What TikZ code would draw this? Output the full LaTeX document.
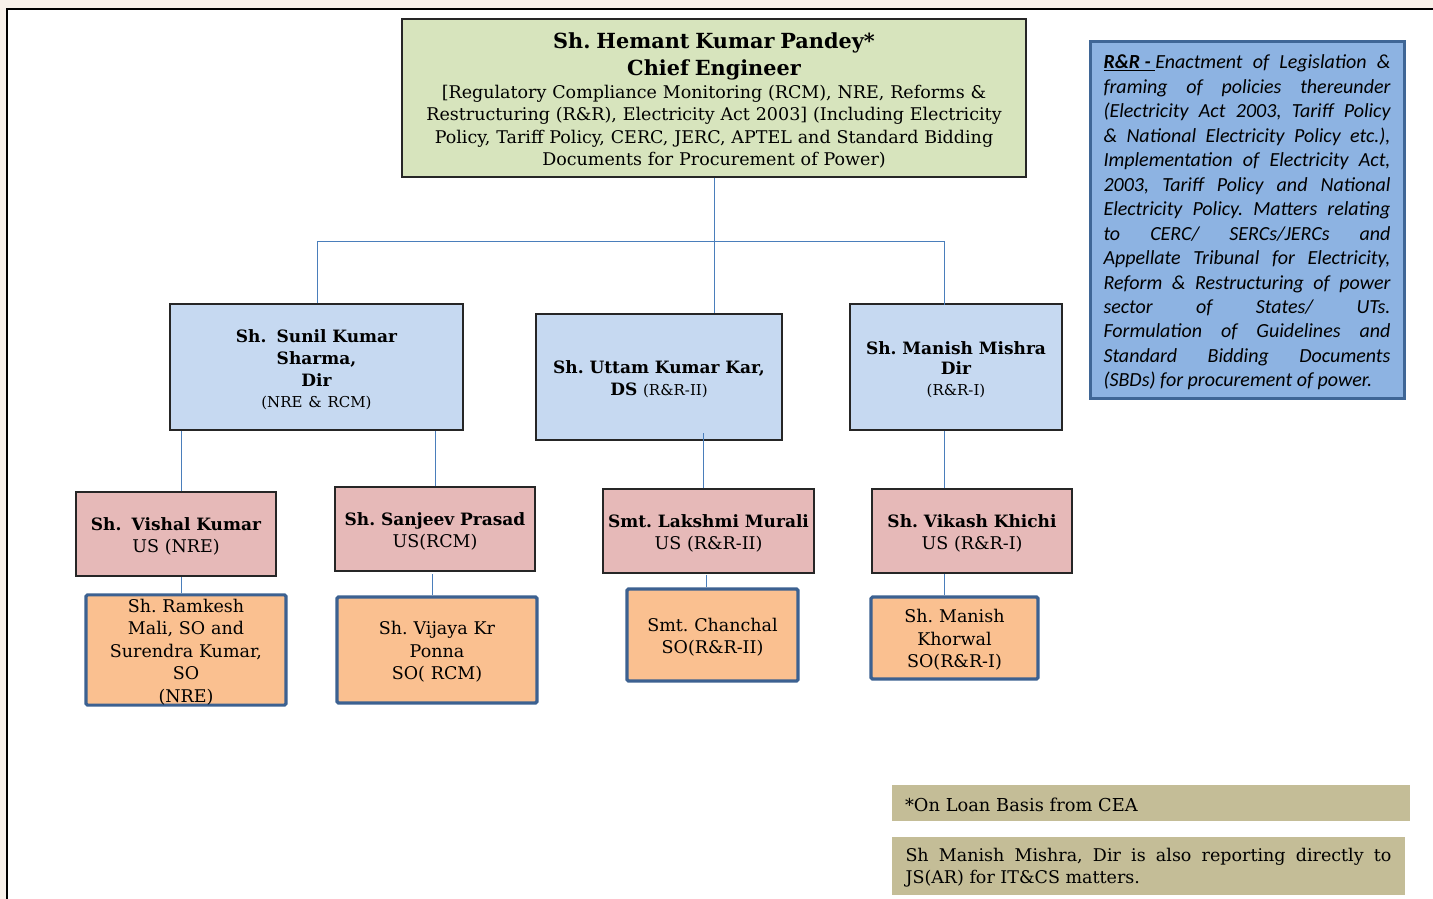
\documentclass[tikz,border=0pt]{standalone}
\usepackage{fontspec}
\setmainfont{DejaVu Serif}
\newfontfamily\calfont{Carlito}
\usetikzlibrary{calc}
\frenchspacing

\definecolor{pagebg}{HTML}{F8F1EA}
\definecolor{cegreen}{HTML}{D7E4BD}
\definecolor{dirblue}{HTML}{C6D9F1}
\definecolor{uspink}{HTML}{E6B9B8}
\definecolor{soorange}{HTML}{FAC090}
\definecolor{soedge}{HTML}{3C6191}
\definecolor{rrblue}{HTML}{8DB3E2}
\definecolor{rredge}{HTML}{3F6696}
\definecolor{notetan}{HTML}{C4BD97}
\definecolor{linkblue}{HTML}{4A7EBB}

% type sizes
\newcommand\cetitle{\fontsize{20.8}{27}\selectfont\bfseries}
\newcommand\namefont{\fontsize{17}{22}\selectfont\bfseries}
\newcommand\postfont{\fontsize{15}{21}\selectfont\mdseries}
\newcommand\bodyfont{\fontsize{17.5}{22.5}\selectfont\mdseries}

\tikzset{
  % a tall strut on the first line sets the text a little lower in its box
  firstline/.style={execute at begin node={\rule{0pt}{#1}}},
  orgbox/.style={draw=black!85, line width=1.4pt, inner sep=0pt, align=center, font=\bodyfont},
  dirbox/.style={orgbox, fill=dirblue, firstline=18pt},
  usbox/.style={orgbox, fill=uspink, minimum height=84pt, firstline=18pt},
  sobox/.style={draw=soedge, line width=3.2pt, rounded corners=1.5pt, fill=soorange,
    inner sep=0pt, align=center, font=\bodyfont, firstline=17.5pt},
  notebox/.style={fill=notetan, inner sep=0pt, font=\bodyfont, firstline=16.5pt},
  link/.style={draw=linkblue, line width=1pt}
}

\begin{document}
\begin{tikzpicture}[x=1pt, y=-1pt]
  % page
  \useasboundingbox (0,0) rectangle (1433,899);
  \fill[pagebg] (0,0) rectangle (1433,899);
  \fill[white] (7,9) rectangle (1433,899);
  \draw[black, line width=1.5pt] (7,899) -- (7,9) -- (1433,9);

  % chief engineer
  \node[orgbox, fill=cegreen, minimum width=624pt, minimum height=158pt, text width=620pt,
        firstline=21.5pt]
    (ce) at (714,98)
    {{\cetitle Sh. Hemant Kumar Pandey*\\Chief Engineer\par}
     {\bodyfont [Regulatory Compliance Monitoring (RCM), NRE, Reforms \&\\
      Restructuring (R\&R), Electricity Act 2003] (Including Electricity\\
      Policy, Tariff Policy, CERC, JERC, APTEL and Standard Bidding\\
      Documents for Procurement of Power)\par}};

  % directors
  \node[dirbox, minimum width=293pt, minimum height=126pt, text width=285pt]
    (sunil) at (316.5,367)
    {{\namefont Sh.\hspace{.6em}Sunil Kumar\\Sharma,\\Dir\par}{\postfont (NRE \& RCM)\par}};
  \node[dirbox, minimum width=246pt, minimum height=126pt, text width=240pt]
    (uttam) at (659,377)
    {{\namefont Sh. Uttam Kumar Kar,\\DS {\postfont (R\&R-II)}\par}};
  \node[dirbox, minimum width=212pt, minimum height=126pt, text width=208pt]
    (manish) at (956,367)
    {{\namefont\fontsize{17}{20.5}\selectfont Sh. Manish Mishra\\Dir\par}{\postfont (R\&R-I)\par}};

  % under secretaries
  \node[usbox, minimum width=200pt, text width=198pt] (vishal) at (176,534)
    {{\namefont Sh.\hspace{.6em}Vishal Kumar\par}{\bodyfont US (NRE)\par}};
  \node[usbox, minimum width=200pt, text width=198pt] (sanjeev) at (435,529)
    {{\namefont Sh. Sanjeev Prasad\par}{\bodyfont US(RCM)\par}};
  \node[usbox, minimum width=211pt, text width=209pt] (lakshmi) at (708.5,531)
    {{\namefont Smt. Lakshmi Murali\par}{\bodyfont US (R\&R-II)\par}};
  \node[usbox, minimum width=200pt, text width=198pt] (vikash) at (972,531)
    {{\namefont Sh. Vikash Khichi\par}{\bodyfont US (R\&R-I)\par}};

  % section officers
  \node[sobox, minimum width=200pt, minimum height=106pt, text width=190pt] (ramkesh) at (186,650)
    {Sh. Ramkesh\\Mali, SO and\\Surendra Kumar,\\SO\\(NRE)};
  \node[sobox, minimum width=200pt, minimum height=106pt, text width=190pt] (vijaya) at (437,650)
    {Sh. Vijaya Kr\\Ponna\\SO( RCM)};
  \node[sobox, minimum width=171pt, minimum height=92pt, text width=165pt] (chanchal) at (712.5,635)
    {Smt. Chanchal\\SO(R\&R-II)};
  \node[sobox, minimum width=167pt, minimum height=82pt, text width=160pt] (khorwal) at (954.5,638)
    {Sh. Manish\\Khorwal\\SO(R\&R-I)};

  % R&R remit
  \node[draw=rredge, line width=3pt, fill=rrblue, minimum width=314pt, minimum height=356pt,
        inner sep=0pt, text width=287pt, align=justify,
        font=\calfont\itshape\fontsize{20}{24.45}\selectfont, firstline=19pt]
    (remit) at (1247,220)
    {\hyphenpenalty=10000\tolerance=10000\emergencystretch=20pt
     \underline{\textbf{R\&R -\ }}Enactment of Legislation \&\linebreak
     framing of policies thereunder\linebreak
     (Electricity Act 2003, Tariff Policy\linebreak
     \& National Electricity Policy etc.),\linebreak
     Implementation of Electricity Act,\linebreak
     2003, Tariff Policy and National\linebreak
     Electricity Policy. Matters relating\linebreak
     to CERC/ SERCs/JERCs and\linebreak
     Appellate Tribunal for Electricity,\linebreak
     Reform \& Restructuring of power\linebreak
     sector of States/ UTs.\linebreak
     Formulation of Guidelines and\linebreak
     Standard Bidding Documents\linebreak
     (SBDs) for procurement of power.};

  % footnotes
  \node[notebox, minimum width=518pt, minimum height=36pt, text width=492pt, align=left]
    (loan) at (1151,803) {\fontsize{17.8}{22.5}\selectfont *On Loan Basis from CEA};
  \node[notebox, minimum width=513pt, minimum height=58pt, text width=486pt, align=justify]
    (itcs) at (1148.5,866)
    {\hyphenpenalty=10000\tolerance=10000
     Sh Manish Mishra, Dir is also reporting directly to\linebreak JS(AR) for IT\&CS matters.};

  % reporting lines
  \coordinate (busL) at (317,241);
  \coordinate (busR) at (944,241);
  \draw[link] (ce.south) -- (ce.south |- uttam.north);
  \draw[link] (sunil.north -| busL) -- (busL) -- (busR) -- ([yshift=-2pt]manish.north -| busR);

  \draw[link] ([xshift=5pt]vishal.north) -- ([xshift=5pt]vishal.north |- sunil.south);
  \draw[link] (sanjeev.north) -- (sanjeev.north |- sunil.south);
  \draw[link] ([xshift=-5.5pt]lakshmi.north) -- ([xshift=-5.5pt,yshift=8pt]lakshmi.north |- uttam.south);
  \draw[link] (vikash.north -| busR) -- (manish.south -| busR);

  \draw[link] ([xshift=-5pt]ramkesh.north) -- ([xshift=-5pt]ramkesh.north |- vishal.south);
  \draw[link] ([xshift=-5pt]vijaya.north) -- ([xshift=-5pt,yshift=21pt]vijaya.north);
  \draw[link] ([xshift=-6.5pt]chanchal.north) -- ([xshift=-6.5pt,yshift=12pt]chanchal.north);
  \draw[link] (khorwal.north -| busR) -- (vikash.south -| busR);
\end{tikzpicture}
\end{document}
